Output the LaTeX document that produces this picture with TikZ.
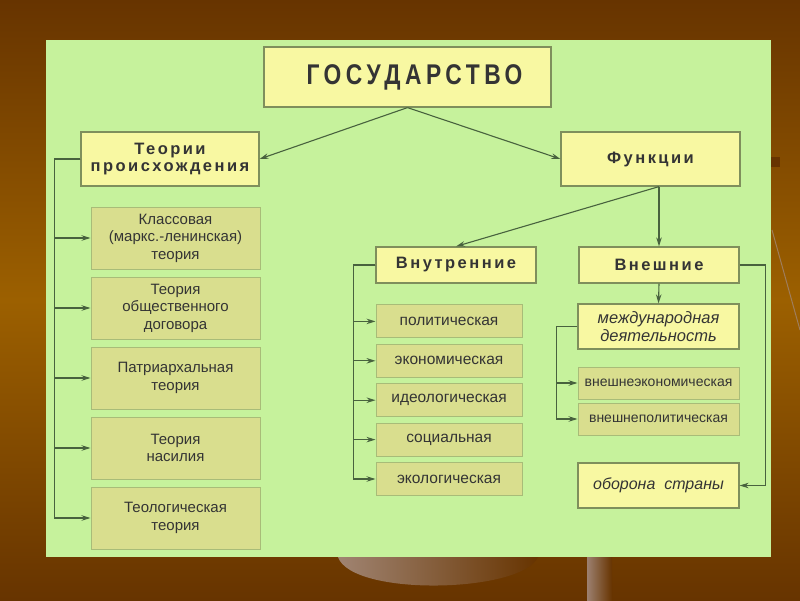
\documentclass[tikz,border=0pt]{standalone}
\usepackage{fontspec}
\setmainfont{Liberation Sans}
\newfontfamily\titlefont[LetterSpace=16,FakeStretch=0.8]{Liberation Sans}
\newfontfamily\headfont[LetterSpace=15]{Liberation Sans}
\usepackage{tikz}
\usetikzlibrary{arrows.meta}
\definecolor{fonkorich}{RGB}{103,52,0}
\definecolor{fonsvetl}{RGB}{156,96,0}
\definecolor{panelzel}{RGB}{198,242,156}
\definecolor{blokzhelt}{RGB}{248,248,162}
\definecolor{blokoliv}{RGB}{217,222,142}
\definecolor{ramka}{RGB}{127,143,92}
\definecolor{ramkasvetl}{RGB}{168,188,120}
\definecolor{liniya}{RGB}{72,98,62}
\definecolor{tekst}{RGB}{52,52,52}
\definecolor{chasha}{RGB}{160,132,114}
\definecolor{stoika}{RGB}{156,128,112}

\begin{document}
\begin{tikzpicture}[x=1pt, y=-1pt, >={Stealth[length=9pt,width=5.5pt]}, line width=1.1pt,
    glav/.style={draw=ramka, fill=blokzhelt, line width=1.2pt, text=tekst, inner sep=0pt, align=center},
    podr/.style={draw=ramkasvetl, fill=blokoliv, line width=1pt, text=tekst, inner sep=0pt, align=center},
    svyaz/.style={draw=liniya, ->}]
    \useasboundingbox (0,0) rectangle (800,600);
    % фон слайда
    \shade[top color=fonkorich, bottom color=fonkorich, middle color=fonsvetl] (0,0) rectangle (800,600);
    % части весов за панелью
    \shade[left color=chasha, right color=fonkorich] (338,557) .. controls (352,597) and (522,593) .. (538,557) -- cycle;
    \shade[left color=stoika, right color=fonkorich] (587,557) rectangle (612,600);
    \draw[line width=1pt, chasha!80!fonsvetl] (772,230) -- (800,330);
    \fill[fonkorich] (771,157) rectangle (780,167);
    % зелёная панель
    \fill[panelzel] (46,40) rectangle (771,557);

    % верхний уровень
    \node[glav, minimum width=287pt, minimum height=60pt, font=\titlefont\bfseries\fontsize{28.5}{30}\selectfont] (gos) at (407.5,77) {\hspace*{14pt}ГОСУДАРСТВО};
    \node[glav, minimum width=178pt, minimum height=54pt, font=\headfont\bfseries\fontsize{16.5}{17.5}\selectfont] (teor) at (170,159) {Теории\\происхождения};
    \node[glav, minimum width=179pt, minimum height=54pt, font=\headfont\bfseries\fontsize{16.5}{17.5}\selectfont] (funk) at (650.5,159) {Функции};
    \node[glav, minimum width=160pt, minimum height=36pt, font=\headfont\bfseries\fontsize{16.5}{17.5}\selectfont] (vnutr) at (456,265) {Внутренние};
    \node[glav, minimum width=160pt, minimum height=36pt, font=\headfont\bfseries\fontsize{16.5}{17.5}\selectfont] (vnesh) at (659,265) {Внешние};

    % теории происхождения
    \foreach \i/\t in {1/{Классовая\\(маркс.-ленинская)\\теория}, 2/{Теория\\общественного\\договора},
        3/{Патриархальная\\теория}, 4/{Теория\\насилия}, 5/{Теологическая\\теория}}
        \node[podr, minimum width=169pt, minimum height=62pt, font=\fontsize{15}{17.5}\selectfont] (t\i) at (175.5,168+70*\i) {\t};

    % внутренние функции
    \foreach \i/\t in {1/политическая, 2/экономическая, 3/идеологическая, 4/социальная, 5/экологическая}
        \node[podr, minimum width=146pt, minimum height=33pt, font=\fontsize{15.5}{17}\selectfont] (p\i) at (449,282+39.4*\i) {\t};

    % внешние функции
    \node[glav, minimum width=161pt, minimum height=45pt, font=\itshape\fontsize{16.5}{18}\selectfont] (mezh) at (658.5,326.5) {международная\\деятельность};
    \node[podr, minimum width=161pt, minimum height=32pt, font=\fontsize{14}{15}\selectfont] (ve1) at (658.5,383) {внешнеэкономическая};
    \node[podr, minimum width=161pt, minimum height=32pt, font=\fontsize{14}{15}\selectfont] (ve2) at (658.5,419) {внешнеполитическая};
    \node[glav, minimum width=161pt, minimum height=45pt, font=\itshape\fontsize{16}{18}\selectfont] (obor) at (658.5,485.5) {оборона\ \ страны};

    % связи
    \draw[svyaz] (gos.south) -- (teor.east);
    \draw[svyaz] (gos.south) -- (funk.west);
    \coordinate (razv) at (funk.south -| vnesh.north);
    \draw[svyaz] (razv) -- (vnutr.north);
    \draw[svyaz] (razv) -- (vnesh.north);
    \draw[svyaz] (vnesh.south) -- (mezh.north);
    \foreach \i in {1,...,5} \draw[svyaz] (teor.west) -- ++(-26,0) |- (t\i.west);
    \foreach \i in {1,...,5} \draw[svyaz] (vnutr.west) -- ++(-22,0) |- (p\i.west);
    \foreach \i in {1,2} \draw[svyaz] (mezh.west) -- ++(-21,0) |- (ve\i.west);
    \draw[svyaz] (vnesh.east) -- ++(26,0) |- (obor.east);
\end{tikzpicture}
\end{document}
